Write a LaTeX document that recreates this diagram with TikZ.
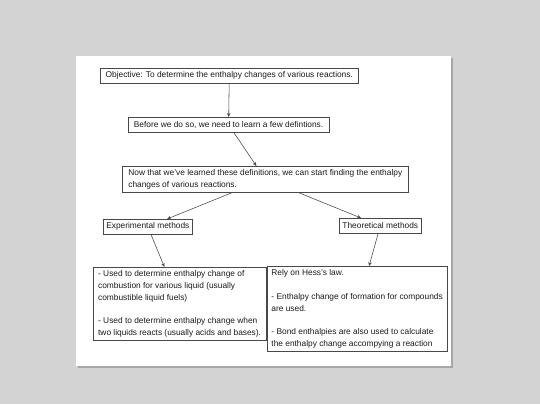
\documentclass[tikz,border=0pt]{standalone}
\usepackage{fontspec}
\setmainfont{Liberation Sans}
\usepackage{tikz}
\usetikzlibrary{arrows.meta,shadows}
\definecolor{desk}{HTML}{D3D3D3}
\definecolor{edge}{HTML}{484848}
\definecolor{ink}{HTML}{1A1A1A}

\begin{document}
\begin{tikzpicture}[
  x=1pt, y=-1pt,
  font=\fontsize{8.35}{11.9}\selectfont, text=ink,
  box/.style={draw=edge, line width=0.6pt, fill=white, inner sep=3pt, align=left, anchor=north west, minimum height=15pt},
  arr/.style={-{Stealth[length=4pt,width=3.5pt]}, edge, line width=0.55pt}
]
% background and sheet
\fill[desk] (0,0) rectangle (540,404);
\useasboundingbox (0,0) rectangle (540,404);
\fill[white, drop shadow={shadow xshift=1.5pt, shadow yshift=-1.5pt, opacity=0.4, fill=black!60}] (76,56) rectangle (451,366);

\node[box, minimum width=258pt] (goal) at (100,68) {Objective: To determine the enthalpy changes of various reactions.};
\node[box, minimum width=200.5pt] (defs) at (128,117) {Before we do so, we need to learn a few defintions.};
\node[box, minimum width=286pt] (start) at (122,166) {Now that we've learned these definitions, we can start finding the enthalpy\\changes of various reactions.};
\node[box, minimum width=89pt] (expt) at (103,219) {Experimental methods};
\node[box, minimum width=82pt] (theo) at (339,218) {Theoretical methods};
\node[box, minimum width=173.4pt] (exptuse) at (92.6,267) {- Used to determine enthalpy change of\\combustion for various liquid (usually\\combustible liquid fuels)\\[11.9pt]- Used to determine enthalpy change when\\two liquids reacts (usually acids and bases).};
\node[box, minimum width=179.6pt] (theouse) at (267,266) {Rely on Hess's law.\\[11.9pt]- Enthalpy change of formation for compounds\\are used.\\[11.9pt]- Bond enthalpies are also used to calculate\\the enthalpy change accompying a reaction};

\draw[arr] (goal) -- (defs);
\draw[arr] (defs) -- (start);
\draw[arr] (start) -- (expt);
\draw[arr] (start) -- (theo);
\draw[arr] (expt) -- (exptuse);
\draw[arr] (theo) -- (theouse);
\end{tikzpicture}
\end{document}
